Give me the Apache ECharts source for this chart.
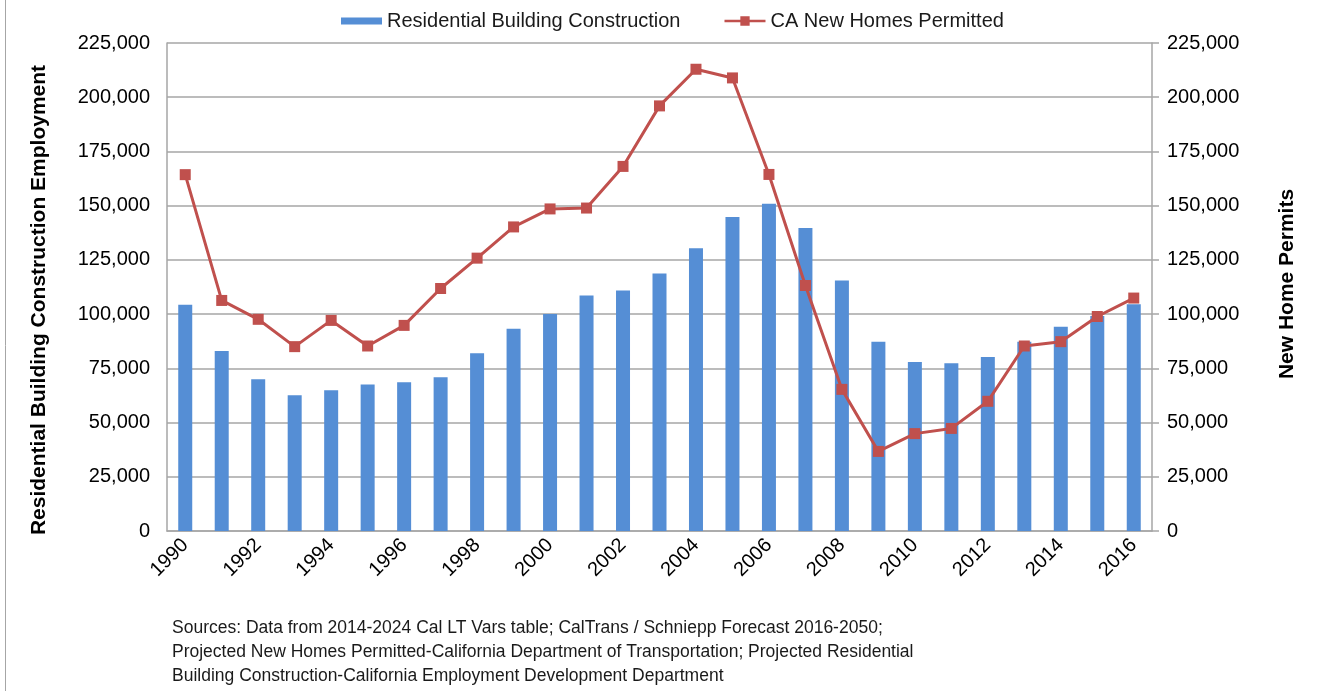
<!DOCTYPE html>
<html>
<head>
<meta charset="utf-8">
<script src="https://cdn.jsdelivr.net/npm/echarts@6/dist/echarts.min.js"></script>
<style>
html,body{margin:0;padding:0;background:#fff;}
#chart{width:1322px;height:691px;}
</style>
</head>
<body>
<div id="chart"></div>
<script>
var years = ['1990','1991','1992','1993','1994','1995','1996','1997','1998','1999','2000','2001','2002','2003','2004','2005','2006','2007','2008','2009','2010','2011','2012','2013','2014','2015','2016'];
var employment = [104300, 83000, 70000, 62600, 64900, 67600, 68600, 70900, 82000, 93300, 100000, 108600, 110900, 118700, 130400, 144800, 150900, 139700, 115500, 87300, 77900, 77400, 80200, 87300, 94200, 99100, 104500];
var permits = [164300, 106300, 97600, 85000, 97100, 85300, 94800, 111800, 125800, 140200, 148500, 148900, 168100, 196000, 212900, 208900, 164400, 113200, 65300, 36700, 44900, 47300, 59800, 85300, 87300, 98900, 107400];
var seriesNames = ['Residential Building Construction', 'CA New Homes Permitted'];
var axisNames = ['Residential Building Construction Employment', 'New Home Permits'];
var sourceLines = [
  'Sources: Data from 2014-2024 Cal LT Vars table; CalTrans / Schniepp Forecast 2016-2050;',
  'Projected New Homes Permitted-California Department of Transportation; Projected Residential',
  'Building Construction-California Employment Development Department'
];

var FONT = '"Liberation Sans", Arial, sans-serif';
var fmt = function (v) { return v.toLocaleString('en-US'); };
var chart = echarts.init(document.getElementById('chart'), null, {renderer: 'canvas'});
chart.setOption({
  animation: false,
  backgroundColor: '#ffffff',
  textStyle: {fontFamily: FONT, color: '#000'},
  title: {
    text: sourceLines.join('\n'),
    left: 172,
    top: 616,
    padding: 0,
    textStyle: {fontFamily: FONT, fontSize: 17.5, fontWeight: 'normal', color: '#1a1a1a', lineHeight: 24}
  },
  legend: {
    top: 6,
    left: 336,
    itemGap: 44,
    textStyle: {fontSize: 20, color: '#1a1a1a', fontFamily: FONT},
    data: [
      {name: seriesNames[0], icon: 'path://M0,1.5H42V8.5H0Z', itemStyle: {color: '#558ed5'}},
      {name: seriesNames[1], icon: 'path://M0,3.7H17V0H27V3.7H44V6.3H27V10H17V6.3H0Z', itemStyle: {color: '#c0504d'}}
    ],
    itemWidth: 41,
    itemHeight: 10
  },
  grid: {left: 167, right: 170, top: 43, bottom: 160, containLabel: false},
  xAxis: {
    type: 'category',
    data: years,
    boundaryGap: true,
    axisLine: {lineStyle: {color: '#a6a6a6', width: 1.5}},
    axisTick: {show: false},
    axisLabel: {rotate: 45, interval: 1, fontSize: 20, color: '#000', margin: 11, fontFamily: FONT}
  },
  yAxis: [
    {
      type: 'value', min: 0, max: 225000, interval: 25000, position: 'left',
      name: axisNames[0], nameLocation: 'middle', nameRotate: 90, nameGap: 117,
      nameTextStyle: {fontSize: 21, fontWeight: 'bold', color: '#000', fontFamily: FONT, padding: [0, 26, 0, 0]},
      axisLine: {show: true, lineStyle: {color: '#a6a6a6', width: 1.5}},
      axisTick: {show: false},
      axisLabel: {formatter: fmt, fontSize: 20, color: '#000', margin: 17, fontFamily: FONT},
      splitLine: {show: true, lineStyle: {color: '#a6a6a6', width: 1.5}}
    },
    {
      type: 'value', min: 0, max: 225000, interval: 25000, position: 'right',
      name: axisNames[1], nameLocation: 'middle', nameRotate: 90, nameGap: 125,
      nameTextStyle: {fontSize: 21, fontWeight: 'bold', color: '#000', fontFamily: FONT, padding: [0, 0, 0, 6]},
      axisLine: {show: true, lineStyle: {color: '#a6a6a6', width: 1.5}},
      axisTick: {show: true, length: 7, lineStyle: {color: '#a6a6a6', width: 1.5}},
      axisLabel: {formatter: fmt, fontSize: 20, color: '#000', margin: 15, fontFamily: FONT},
      splitLine: {show: false}
    }
  ],
  series: [
    {
      name: seriesNames[0], type: 'bar', yAxisIndex: 0, data: employment,
      barWidth: 14,
      itemStyle: {color: '#558ed5'}
    },
    {
      name: seriesNames[1], type: 'line', yAxisIndex: 1, data: permits,
      symbol: 'rect', symbolSize: 11,
      lineStyle: {color: '#c0504d', width: 3},
      itemStyle: {color: '#c0504d'}
    }
  ],
  graphic: [
    {type: 'line', shape: {x1: 5.5, y1: 0, x2: 5.5, y2: 691}, style: {stroke: '#a6a6a6', lineWidth: 1}, silent: true}
  ]
});
</script>
</body>
</html>
